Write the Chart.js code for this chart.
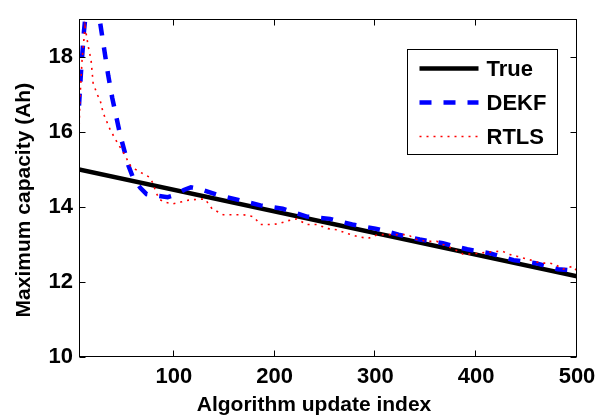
<!DOCTYPE html>
<html>
<head>
<meta charset="utf-8">
<script src="https://cdn.jsdelivr.net/npm/chart.js@4/dist/chart.umd.min.js"></script>
<style>
  html, body { margin: 0; padding: 0; background: #fff; }
</style>
</head>
<body>
<canvas id="capChart" width="607" height="419"></canvas>
<script>
// Tick values
const xTicks = [100, 200, 300, 400, 500];
const yTicks = [10, 12, 14, 16, 18];

// Axis titles
const xTitle = 'Algorithm update index';
const yTitle = 'Maximum capacity (Ah)';

// True capacity (straight line)
const trueX = [6, 500];
const trueY = [15.0, 12.15];

// DEKF estimate
const dekfX = [6, 8, 11, 14, 18, 22, 25, 27, 31, 35, 39, 43, 47, 51, 55, 60, 67, 73, 82, 94,
  102, 110, 117, 125, 143, 165, 186, 208, 232, 255, 277, 300, 323, 344, 367, 391, 414, 437, 459, 481, 500];
const dekfY = [16.7, 17.6, 18.7, 19.5, 20.0, 19.8, 19.3, 18.9, 18.2, 17.5, 16.9, 16.4, 15.9, 15.5, 15.1, 14.75, 14.5, 14.34, 14.3, 14.26,
  14.32, 14.45, 14.52, 14.48, 14.32, 14.18, 14.04, 13.95, 13.74, 13.68, 13.53, 13.42, 13.26, 13.13, 13.03, 12.87, 12.76, 12.58, 12.5, 12.34, 12.29];

// RTLS estimate
const rtlsX = [6, 7, 9, 12, 15, 18, 20, 24, 27, 30, 37, 44, 50, 57, 62, 67, 72, 76, 80, 82,
  86, 90, 99, 107, 115, 123, 131, 138, 149, 163, 169, 179, 186, 196, 204, 213, 222, 232, 242, 253,
  262, 272, 282, 293, 302, 312, 322, 332, 341, 351, 361, 367, 377, 387, 392, 401, 414, 426, 432, 441,
  452, 464, 473, 478, 486, 496, 500];
const rtlsY = [16.0, 16.9, 17.9, 18.8, 18.3, 17.9, 17.3, 17.0, 16.84, 16.5, 16.05, 15.71, 15.45, 15.1, 15.0, 14.92, 14.85, 14.79, 14.6, 14.4,
  14.2, 14.13, 14.08, 14.13, 14.18, 14.2, 14.21, 13.95, 13.79, 13.79, 13.79, 13.74, 13.53, 13.53, 13.55, 13.63, 13.68, 13.53, 13.53, 13.42,
  13.39, 13.29, 13.21, 13.16, 13.26, 13.26, 13.26, 13.26, 13.13, 13.08, 13.08, 13.0, 12.89, 12.74, 12.74, 12.76, 12.8, 12.82, 12.74, 12.68,
  12.6, 12.5, 12.5, 12.47, 12.34, 12.42, 12.29];

const FONT = '"Liberation Sans", Arial, Helvetica, sans-serif';

function toPoints(xs, ys) {
    return xs.map((x, i) => ({ x: x, y: ys[i] }));
}

// Box around the axes, MATLAB style inward ticks, axis titles and the legend
const framePlugin = {
    id: 'frame',
    afterDraw(chart) {
        const ctx = chart.ctx;
        const ca = chart.chartArea;
        const xs = chart.scales.x, ys = chart.scales.y;
        const L = Math.round(ca.left) + 0.5, R = Math.round(ca.right) - 0.5;
        const T = Math.round(ca.top) + 0.5, B = Math.round(ca.bottom) - 0.5;
        const tl = 6;

        ctx.save();
        ctx.strokeStyle = '#000';
        ctx.lineWidth = 1;
        ctx.setLineDash([]);
        ctx.strokeRect(L, T, R - L, B - T);

        ctx.beginPath();
        xTicks.forEach(v => {
            const px = Math.round(xs.getPixelForValue(v)) - 0.5;
            ctx.moveTo(px, B); ctx.lineTo(px, B - tl);
            ctx.moveTo(px, T); ctx.lineTo(px, T + tl);
        });
        yTicks.forEach(v => {
            const py = Math.round(ys.getPixelForValue(v)) + 0.5;
            ctx.moveTo(L, py); ctx.lineTo(L + tl, py);
            ctx.moveTo(R, py); ctx.lineTo(R - tl, py);
        });
        ctx.stroke();

        // axis titles (sit a little off centre in the original figure)
        ctx.fillStyle = '#000';
        ctx.font = 'bold 21px ' + FONT;
        ctx.textAlign = 'center';
        ctx.textBaseline = 'middle';
        ctx.fillText(xTitle, (ca.left + ca.right) / 2 - 14, ca.bottom + 48);
        ctx.save();
        ctx.translate(24, (ca.top + ca.bottom) / 2 + 12);
        ctx.rotate(-Math.PI / 2);
        ctx.fillText(yTitle, 0, 0);
        ctx.restore();

        // legend box
        const boxR = Math.round(ca.right) - 19.5, boxL = boxR - 150;
        const boxT = Math.round(ca.top) + 30.5, boxB = boxT + 105;
        ctx.fillStyle = '#fff';
        ctx.fillRect(boxL, boxT, boxR - boxL, boxB - boxT);
        ctx.strokeRect(boxL, boxT, boxR - boxL, boxB - boxT);

        const rows = [19, 53, 87];
        const order = ['True', 'DEKF', 'RTLS'];
        ctx.font = 'bold 22px ' + FONT;
        ctx.textBaseline = 'middle';
        ctx.textAlign = 'left';
        order.forEach((name, i) => {
            const ds = chart.data.datasets.find(d => d.label === name);
            const y = boxT + rows[i];
            ctx.beginPath();
            ctx.strokeStyle = ds.borderColor;
            ctx.lineWidth = ds.borderWidth;
            ctx.setLineDash(ds.borderDash || []);
            ctx.moveTo(boxL + 12, y);
            ctx.lineTo(boxL + 71, y);
            ctx.stroke();
            ctx.setLineDash([]);
            ctx.fillStyle = '#000';
            ctx.fillText(name, boxL + 79, y + 1);
        });
        ctx.restore();
    }
};

const ctx = document.getElementById('capChart').getContext('2d');
new Chart(ctx, {
    type: 'line',
    data: {
        datasets: [
            {
                label: 'True',
                data: toPoints(trueX, trueY),
                borderColor: '#000000',
                borderWidth: 4.5,
                order: 3
            },
            {
                label: 'DEKF',
                data: toPoints(dekfX, dekfY),
                borderColor: '#0000ff',
                borderWidth: 4.5,
                borderDash: [12, 12],
                order: 2
            },
            {
                label: 'RTLS',
                data: toPoints(rtlsX, rtlsY),
                borderColor: '#ff0000',
                borderWidth: 1.6,
                borderDash: [2, 5],
                order: 1
            }
        ]
    },
    options: {
        responsive: false,
        animation: false,
        devicePixelRatio: 1,
        layout: { padding: { top: 14, right: 30, left: 0, bottom: 0 } },
        elements: {
            point: { radius: 0, hoverRadius: 0 },
            line: { tension: 0, fill: false }
        },
        datasets: { line: { clip: 0 } },
        plugins: {
            legend: { display: false },
            tooltip: { enabled: false }
        },
        scales: {
            x: {
                type: 'linear',
                min: 6,
                max: 500,
                afterBuildTicks: s => { s.ticks = xTicks.map(v => ({ value: v })); },
                afterFit: s => { s.height = 62; },
                grid: { display: false, drawTicks: false },
                border: { display: false },
                ticks: {
                    color: '#000',
                    font: { family: FONT, size: 22, weight: 'bold' },
                    padding: 7,
                    maxRotation: 0,
                    autoSkip: false
                },
                title: { display: false }
            },
            y: {
                type: 'linear',
                min: 10,
                max: 19,
                afterBuildTicks: s => { s.ticks = yTicks.map(v => ({ value: v })); },
                afterFit: s => { s.width = 79; },
                grid: { display: false, drawTicks: false },
                border: { display: false },
                ticks: {
                    color: '#000',
                    font: { family: FONT, size: 22, weight: 'bold' },
                    padding: 6
                },
                title: { display: false }
            }
        }
    },
    plugins: [framePlugin]
});
</script>
</body>
</html>
